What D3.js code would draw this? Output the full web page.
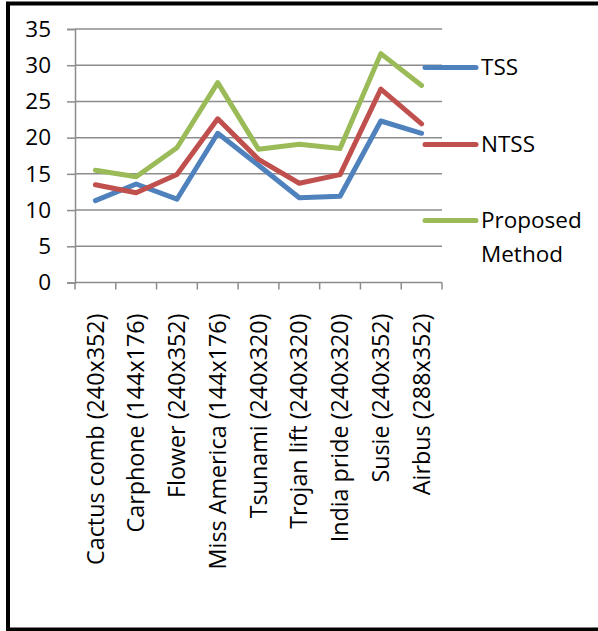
<!DOCTYPE html>
<html>
<head>
<meta charset="utf-8">
<script src="https://cdn.jsdelivr.net/npm/d3@7"></script>
<style>
  html, body { margin: 0; padding: 0; background: #fff; }
  svg { display: block; }
  text { font-family: "Open Sans", sans-serif; fill: #000; }
</style>
</head>
<body>
<svg id="chart" width="598" height="631"></svg>
<script>
// Sequences tested (frame size in brackets)
const categories = [
  "Cactus comb (240x352)", "Carphone (144x176)", "Flower (240x352)",
  "Miss America (144x176)", "Tsunami (240x320)", "Trojan lift (240x320)",
  "India pride (240x320)", "Susie (240x352)", "Airbus (288x352)"
];
const tssValues      = [11.3, 13.6, 11.5, 20.6, 16.2, 11.7, 11.9, 22.3, 20.6];
const ntssValues     = [13.5, 12.4, 14.9, 22.6, 17.0, 13.7, 14.9, 26.7, 21.9];
const proposedValues = [15.5, 14.6, 18.6, 27.6, 18.4, 19.1, 18.5, 31.6, 27.2];
const yTicks = [0, 5, 10, 15, 20, 25, 30, 35];

const series = [
  { name: ["TSS"], values: tssValues, color: "#4F81BD" },
  { name: ["NTSS"], values: ntssValues, color: "#C0504D" },
  { name: ["Proposed", "Method"], values: proposedValues, color: "#9BBB59" }
];

const svg = d3.select("#chart");
const fontSize = 22.5;
const catFontSize = 23.3;

// outer frame: left, top and bottom edges
svg.append("path")
  .attr("d", "M598,3.5 H8 V629.5 H598")
  .attr("fill", "none")
  .attr("stroke", "#000")
  .attr("stroke-width", 4);

const plot = { left: 75, right: 442, top: 29, bottom: 282.5 };

const x = d3.scaleBand().domain(categories).range([plot.left, plot.right]).padding(0);
const y = d3.scaleLinear().domain([0, 35]).range([plot.bottom, plot.top]);

// horizontal gridlines
svg.append("g")
  .selectAll("line")
  .data(yTicks.filter(t => t > 0))
  .join("line")
  .attr("x1", plot.left).attr("x2", plot.right)
  .attr("y1", d => y(d)).attr("y2", d => y(d))
  .attr("stroke", "#8c8c8c").attr("stroke-width", 1.5);

// y axis
const yAxis = svg.append("g")
  .attr("transform", `translate(${plot.left},0)`)
  .call(d3.axisLeft(y).tickValues(yTicks).tickSize(8).tickPadding(16));
yAxis.select(".domain").attr("stroke", "#8c8c8c").attr("stroke-width", 1.5);
yAxis.selectAll(".tick line").attr("stroke", "#8c8c8c").attr("stroke-width", 1.5);
yAxis.selectAll(".tick text")
  .attr("font-size", fontSize).attr("font-family", "'Open Sans', sans-serif")
  .attr("fill", "#000");

// x axis with boundary ticks between categories
const xg = svg.append("g").attr("transform", `translate(0,${plot.bottom})`);
xg.append("line")
  .attr("x1", plot.left).attr("x2", plot.right)
  .attr("stroke", "#8c8c8c").attr("stroke-width", 1.5);
const bounds = categories.map(c => x(c)).concat([x(categories[categories.length - 1]) + x.bandwidth()]);
xg.selectAll("line.tk")
  .data(bounds)
  .join("line")
  .attr("class", "tk")
  .attr("x1", d => d).attr("x2", d => d)
  .attr("y1", 0).attr("y2", 7)
  .attr("stroke", "#8c8c8c").attr("stroke-width", 1.5);
xg.selectAll("text")
  .data(categories)
  .join("text")
  .attr("transform", d => `translate(${x(d) + x.bandwidth() / 2},31) rotate(-90)`)
  .attr("text-anchor", "end")
  .attr("dy", "0.35em")
  .attr("font-size", catFontSize)
  .text(d => d);

// series lines
const line = d3.line()
  .x((d, i) => x(categories[i]) + x.bandwidth() / 2)
  .y(d => y(d));

svg.append("g")
  .selectAll("path")
  .data(series)
  .join("path")
  .attr("d", s => line(s.values))
  .attr("fill", "none")
  .attr("stroke", s => s.color)
  .attr("stroke-width", 5)
  .attr("stroke-linejoin", "round")
  .attr("stroke-linecap", "round");

// legend
const legendY = [67.5, 144.5, 220.5];
const leg = svg.append("g");
series.forEach((s, i) => {
  leg.append("line")
    .attr("x1", 425).attr("x2", 476)
    .attr("y1", legendY[i]).attr("y2", legendY[i])
    .attr("stroke", s.color).attr("stroke-width", 5)
    .attr("stroke-linecap", "round");
  const t = leg.append("text")
    .attr("x", 481).attr("y", legendY[i])
    .attr("font-size", fontSize);
  s.name.forEach((part, j) => {
    t.append("tspan").attr("x", 481).attr("dy", j === 0 ? "0.35em" : 34).text(part);
  });
});
</script>
</body>
</html>
